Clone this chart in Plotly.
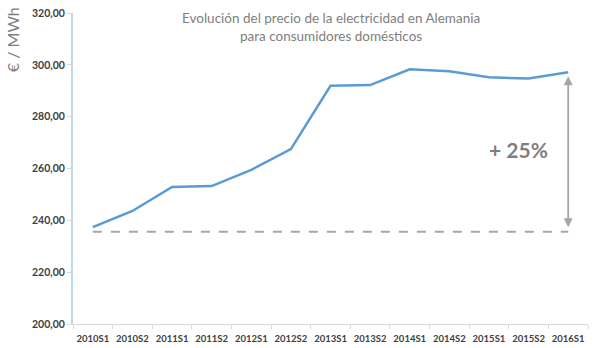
import plotly.graph_objects as go

categories = ["2010S1", "2010S2", "2011S1", "2011S2", "2012S1", "2012S2", "2013S1",
              "2013S2", "2014S1", "2014S2", "2015S1", "2015S2", "2016S1"]
prices = [237.4, 243.6, 252.9, 253.2, 259.5, 267.5, 291.9, 292.2, 298.3, 297.5, 295.2, 294.7, 297.1]
baseline = 235.6
y_ticks = [200, 220, 240, 260, 280, 300, 320]

fig = go.Figure()
fig.add_trace(go.Scatter(
    x=categories, y=[baseline] * len(categories), mode="lines",
    line=dict(color="#a6a6a6", width=1.8, dash="dash"), hoverinfo="skip"))
fig.add_trace(go.Scatter(
    x=categories, y=prices, mode="lines",
    line=dict(color="#5b9bd5", width=2.5)))

fig.add_annotation(
    x=categories[-1], y=prices[-1], ax=categories[-1], ay=baseline,
    xref="x", yref="y", axref="x", ayref="y", text="",
    showarrow=True, arrowhead=2, arrowside="end+start", arrowsize=1,
    arrowwidth=1.8, arrowcolor="#a6a6a6", standoff=4, startstandoff=3)

fig.add_annotation(
    x=0.866, y=0.56, xref="paper", yref="paper", xanchor="center", yanchor="middle",
    text="<b>+ 25%</b>", showarrow=False,
    font=dict(family="Lato", size=21, color="#7f7f7f"))

fig.add_annotation(
    x=0.5, y=0.955, xref="paper", yref="paper", xanchor="center", yanchor="middle",
    text="Evolución del precio de la electricidad en Alemania<br>para consumidores domésticos",
    showarrow=False, font=dict(family="Lato", size=13.5, color="#808080"))

fig.add_annotation(
    x=-0.117, y=0.915, xref="paper", yref="paper", xanchor="center", yanchor="middle",
    text="€ / MWh", textangle=-90, showarrow=False,
    font=dict(family="Lato", size=16, color="#7f7f7f"))

fig.update_layout(
    width=600, height=348,
    margin=dict(l=73, r=12, t=13, b=24),
    paper_bgcolor="white", plot_bgcolor="white",
    showlegend=False,
    separators=",.",
    xaxis=dict(type="category", tickson="boundaries", ticks="outside", ticklen=4,
               tickcolor="#d9d9d9", showline=True, linecolor="#d9d9d9", linewidth=1,
               showgrid=False, range=[-0.5, 12.5], tickangle=0, automargin=False,
               ticklabelstandoff=6,
               tickfont=dict(family="Lato", size=9.5, color="#404040", weight="bold")),
    yaxis=dict(range=[200, 320], tickvals=y_ticks, tickformat=".2f",
               ticks="outside", ticklen=4, tickcolor="#d9d9d9",
               showline=True, linecolor="#bdd7ee", linewidth=2,
               showgrid=False, zeroline=False, automargin=False,
               tickfont=dict(family="Lato", size=10.5, color="#404040", weight="bold")),
)

fig.write_html("out.html")
